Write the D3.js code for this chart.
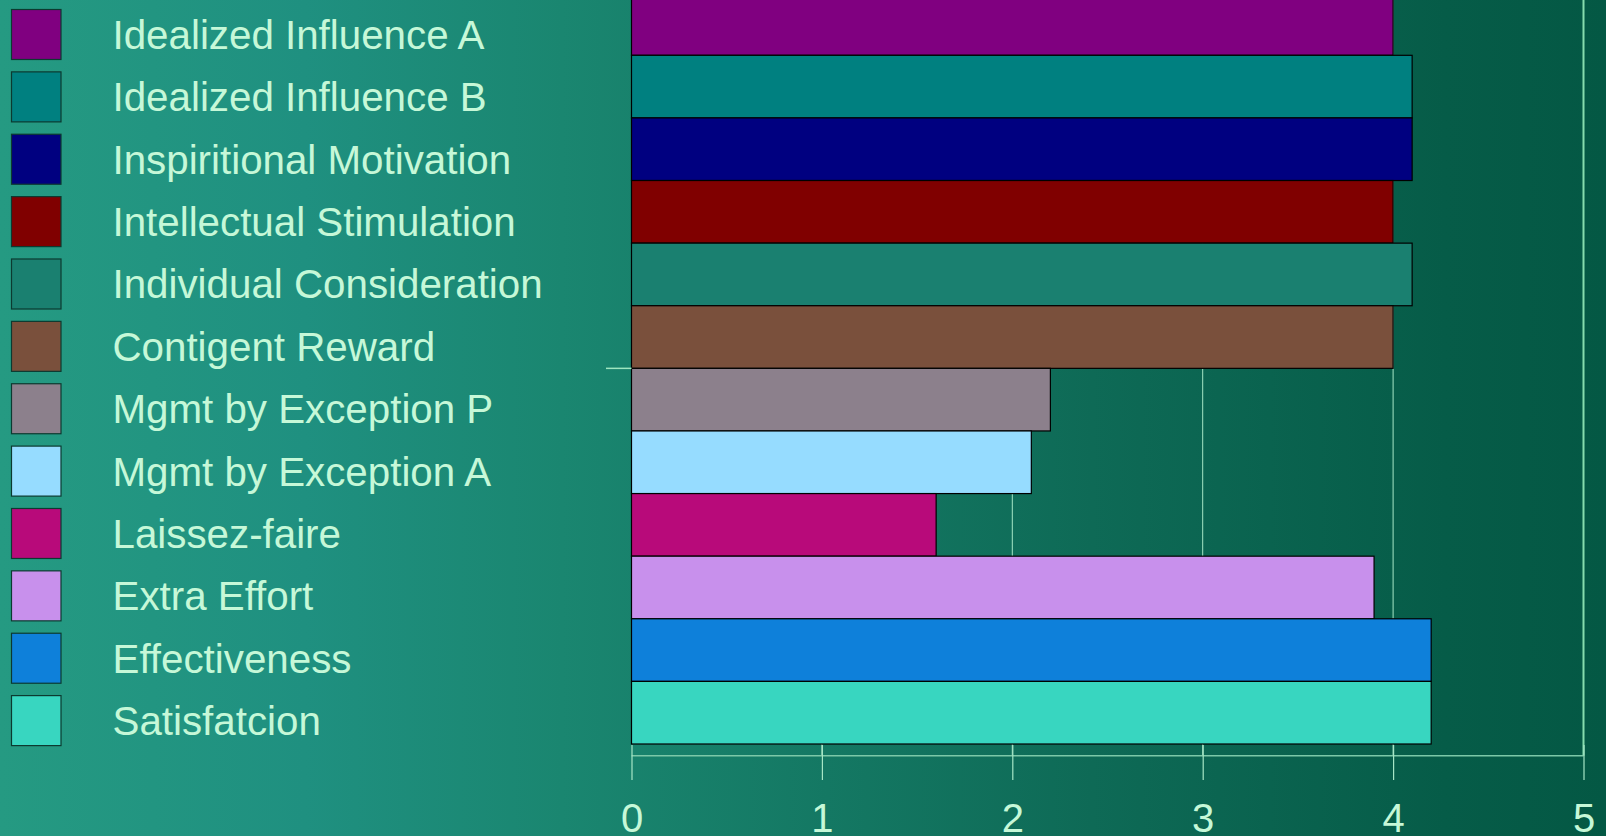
<!DOCTYPE html>
<html>
<head>
<meta charset="utf-8">
<script src="https://cdn.jsdelivr.net/npm/d3@7"></script>
<style>
  html, body { margin: 0; padding: 0; overflow: hidden; }
  svg { display: block; }
</style>
</head>
<body>
<script>
// chart data
const categories = [
    "Idealized Influence A", "Idealized Influence B", "Inspiritional Motivation",
    "Intellectual Stimulation", "Individual Consideration", "Contigent Reward",
    "Mgmt by Exception P", "Mgmt by Exception A", "Laissez-faire",
    "Extra Effort", "Effectiveness", "Satisfatcion"
];
const scores = [4.0, 4.1, 4.1, 4.0, 4.1, 4.0, 2.2, 2.1, 1.6, 3.9, 4.2, 4.2];
const barColours = [
    "#800080", "#008080", "#000080", "#800000", "#1a8070", "#7a503c",
    "#8c808c", "#96dcff", "#b80a7a", "#c890ec", "#0e80da", "#38d6c0"
];
const xTicks = [0, 1, 2, 3, 4, 5];

const width = 1606;
const height = 836;
const textColour = '#c6f8d8';

let svg = d3.select('body')
    .append('svg')
        .attr('width', width)
        .attr('height', height);

// background gradient, left to right
let grad = svg.append('defs').append('linearGradient')
    .attr('id', 'bg')
    .attr('x1', '0%').attr('x2', '100%')
    .attr('y1', '0%').attr('y2', '0%');
[['0%', '#259a82'], ['19%', '#1f9080'], ['35%', '#1a8670'], ['68%', '#0e6a56'], ['90%', '#065c48'], ['100%', '#045844']]
    .forEach(s => grad.append('stop').attr('offset', s[0]).attr('stop-color', s[1]));

svg.append('rect')
    .attr('width', width)
    .attr('height', height)
    .attr('fill', 'url(#bg)');

// scales
const xScale = d3.scaleLinear()
    .domain([0, 5])
    .range([631.5, 1583.5]);

const yScale = d3.scaleBand()
    .domain(categories)
    .range([-7.3, 744])
    .padding(0);

const axisY = 755.7;

// vertical gridlines
svg.append('g')
    .selectAll('line')
    .data(xTicks.slice(1))
    .enter()
        .append('line')
            .attr('x1', d => xScale(d))
            .attr('x2', d => xScale(d))
            .attr('y1', 0)
            .attr('y2', axisY)
            .attr('stroke', (d) => d == 5 ? '#86dcae' : '#a6e6c6')
            .attr('stroke-width', (d) => d == 5 ? 2 : 1);

// bars
svg.append('g')
    .selectAll('rect')
    .data(categories)
    .enter()
        .append('rect')
            .attr('x', xScale(0))
            .attr('y', d => yScale(d))
            .attr('width', (d, i) => xScale(scores[i]) - xScale(0))
            .attr('height', yScale.bandwidth())
            .attr('fill', (d, i) => barColours[i])
            .attr('stroke', '#000')
            .attr('stroke-width', 1.2);

// single category tick on the left
const midY = (yScale.range()[0] + yScale.range()[1]) / 2;
svg.append('line')
    .attr('x1', 606).attr('x2', xScale(0))
    .attr('y1', midY).attr('y2', midY)
    .attr('stroke', '#9ee6c0')
    .attr('stroke-width', 1.5);

// x axis line
svg.append('line')
    .attr('x1', xScale(0)).attr('x2', xScale(5))
    .attr('y1', axisY).attr('y2', axisY)
    .attr('stroke', '#7cc8a8')
    .attr('stroke-width', 1.5);

// x axis ticks and labels
let xAxis = svg.append('g')
    .attr('transform', 'translate(0, 745)')
    .call(d3.axisBottom(xScale)
        .tickValues(xTicks)
        .tickFormat(d3.format('d'))
        .tickSize(35)
        .tickPadding(24));
xAxis.select('.domain').remove();
xAxis.selectAll('line')
    .attr('stroke', '#a6e6c6')
    .attr('stroke-width', 1.2);
xAxis.selectAll('text')
    .attr('fill', textColour)
    .style('font-family', '"Liberation Sans", Arial, sans-serif')
    .style('font-size', '40px');

// legend
const legendY = d3.scaleLinear()
    .domain([0, categories.length - 1])
    .range([34.5, 720.6]);

let legend = svg.append('g')
    .selectAll('g')
    .data(categories)
    .enter()
        .append('g')
            .attr('transform', (d, i) => `translate(0, ${legendY(i)})`);

legend.append('rect')
    .attr('x', 11.5)
    .attr('y', -25)
    .attr('width', 49.5)
    .attr('height', 50)
    .attr('fill', (d, i) => barColours[i])
    .attr('stroke', '#0c3a30')
    .attr('stroke-width', 1.2);

legend.append('text')
    .attr('x', 112.5)
    .attr('y', 14.5)
    .attr('fill', textColour)
    .style('font-family', '"Liberation Sans", Arial, sans-serif')
    .style('font-size', '40.3px')
    .text(d => d);
</script>
</body>
</html>
